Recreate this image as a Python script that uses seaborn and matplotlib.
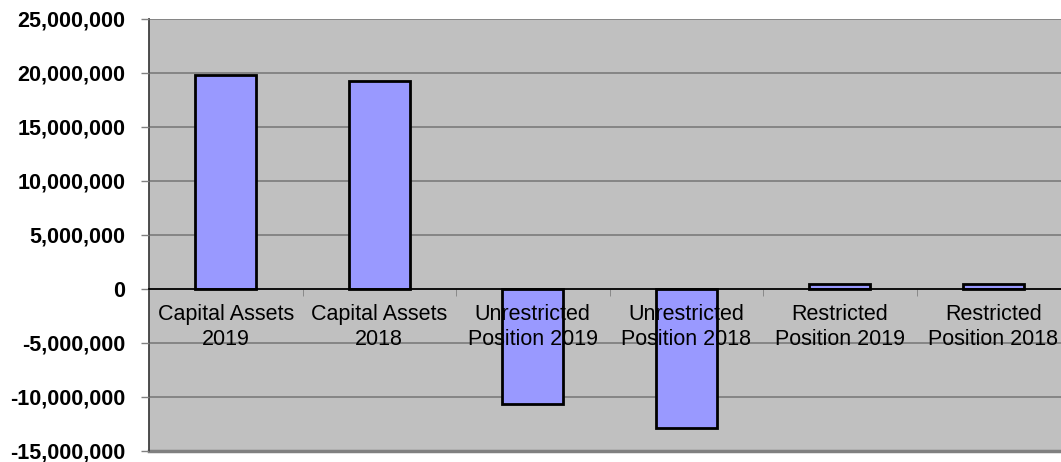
import matplotlib
matplotlib.use("Agg")
import matplotlib.pyplot as plt
import seaborn as sns
import pandas as pd
from matplotlib.ticker import FuncFormatter

categories = ["Capital Assets\n2019", "Capital Assets\n2018", "Unrestricted\nPosition 2019",
              "Unrestricted\nPosition 2018", "Restricted\nPosition 2019", "Restricted\nPosition 2018"]
values = [19850000, 19250000, -10650000, -12900000, 420000, 420000]
y_ticks = [-15000000, -10000000, -5000000, 0, 5000000, 10000000, 15000000, 20000000, 25000000]

plt.rcParams['font.family'] = ['Liberation Sans', 'DejaVu Sans']
plt.rcParams['axes.axisbelow'] = False

df = pd.DataFrame({"category": categories, "value": values})

fig = plt.figure(figsize=(10.61, 4.62), dpi=100)
ax = fig.add_axes([149/1061, 11/462, 921/1061, 432/462])
ax.set_facecolor('#C0C0C0')
fig.patch.set_facecolor('white')

sns.barplot(data=df, x="category", y="value", color="#9999FF", saturation=1,
            edgecolor="black", linewidth=2, width=0.4, ax=ax, zorder=1)

ax.set_ylim(-15000000, 25000000)
ax.set_xlim(-0.5, len(categories) - 0.5)
ax.set_yticks(y_ticks)
ax.yaxis.set_major_formatter(FuncFormatter(lambda v, p: f"{int(v):,}"))
for t in y_ticks:
    if t != 0:
        ax.axhline(t, color='#808080', lw=1.3, zorder=0.5)

ax.set_xlabel("")
ax.set_ylabel("")

ax.spines['bottom'].set_position(('data', 0))
ax.spines['bottom'].set_color('black')
ax.spines['bottom'].set_linewidth(1.3)
ax.spines['bottom'].set_zorder(3)
ax.spines['left'].set_color('#404040')
ax.spines['left'].set_linewidth(1.3)
ax.spines['top'].set_visible(False)
ax.spines['right'].set_visible(False)

# bottom border of plot area
ax.axhline(-15000000, color='#808080', lw=2.5, zorder=0.6, clip_on=False)

ax.set_xticks(range(len(categories)))
ax.set_xticklabels(categories, fontsize=15.5, linespacing=1.22, color='black')
ax.tick_params(axis='x', length=0, pad=11)
ax.set_xticks([i + 0.5 for i in range(len(categories) - 1)], minor=True)
ax.tick_params(axis='x', which='minor', length=5, color='#808080', direction='out')

ax.tick_params(axis='y', length=6, color='#808080', width=1, pad=11)
for lbl in ax.get_yticklabels():
    lbl.set_fontweight('bold')
    lbl.set_fontsize(15.5)
    lbl.set_color('black')

fig.savefig("out.png", dpi=100)
